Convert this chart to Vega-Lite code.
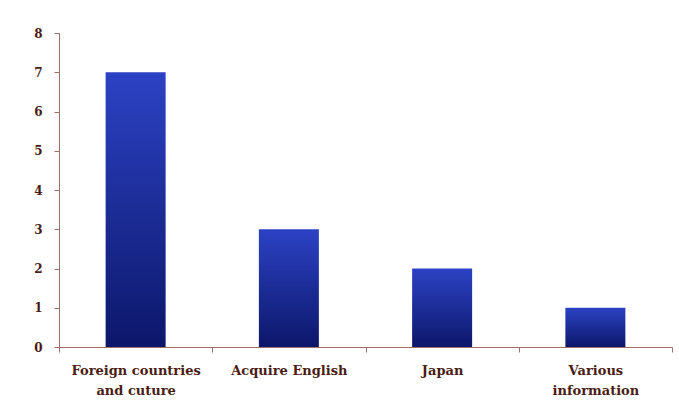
{
  "$schema": "https://vega.github.io/schema/vega-lite/v6.json",
  "width": 613,
  "height": 314,
  "autosize": {"type": "none"},
  "padding": {"left": 59, "top": 33, "right": 7, "bottom": 64},
  "background": "white",
  "data": {"values": [
    {"category": "Foreign countries and cuture", "value": 7},
    {"category": "Acquire English", "value": 3},
    {"category": "Japan", "value": 2},
    {"category": "Various information", "value": 1}
  ]},
  "mark": {
    "type": "bar",
    "width": 60,
    "color": {
      "gradient": "linear", "x1": 0, "y1": 0, "x2": 0, "y2": 1,
      "stops": [
        {"offset": 0, "color": "#2c42c4"},
        {"offset": 1, "color": "#0c176a"}
      ]
    }
  },
  "encoding": {
    "x": {
      "field": "category", "type": "nominal", "sort": null,
      "scale": {"paddingInner": 0, "paddingOuter": 0},
      "axis": {
        "title": null, "labelAngle": 0, "tickBand": "extent",
        "labelExpr": "datum.value == 'Foreign countries and cuture' ? ['Foreign countries', 'and cuture'] : datum.value == 'Various information' ? ['Various', 'information'] : datum.value",
        "labelFont": "DejaVu Serif", "labelFontSize": 13, "labelFontWeight": "bold",
        "labelColor": "#4a1c14", "labelPadding": 12, "labelLineHeight": 20,
        "labelOverlap": false,
        "domainColor": "#9a7068", "tickColor": "#9a7068", "tickSize": 5
      }
    },
    "y": {
      "field": "value", "type": "quantitative",
      "scale": {"domain": [0, 8]},
      "axis": {
        "title": null, "grid": false, "values": [0,1,2,3,4,5,6,7,8],
        "labelOverlap": false,
        "labelFont": "DejaVu Serif", "labelFontSize": 12, "labelFontWeight": "bold",
        "labelColor": "#4a1c14", "labelPadding": 16, "labelAlign": "center",
        "domainColor": "#9a7068", "tickColor": "#9a7068", "tickSize": 5
      }
    }
  },
  "config": {"view": {"stroke": null}}
}
